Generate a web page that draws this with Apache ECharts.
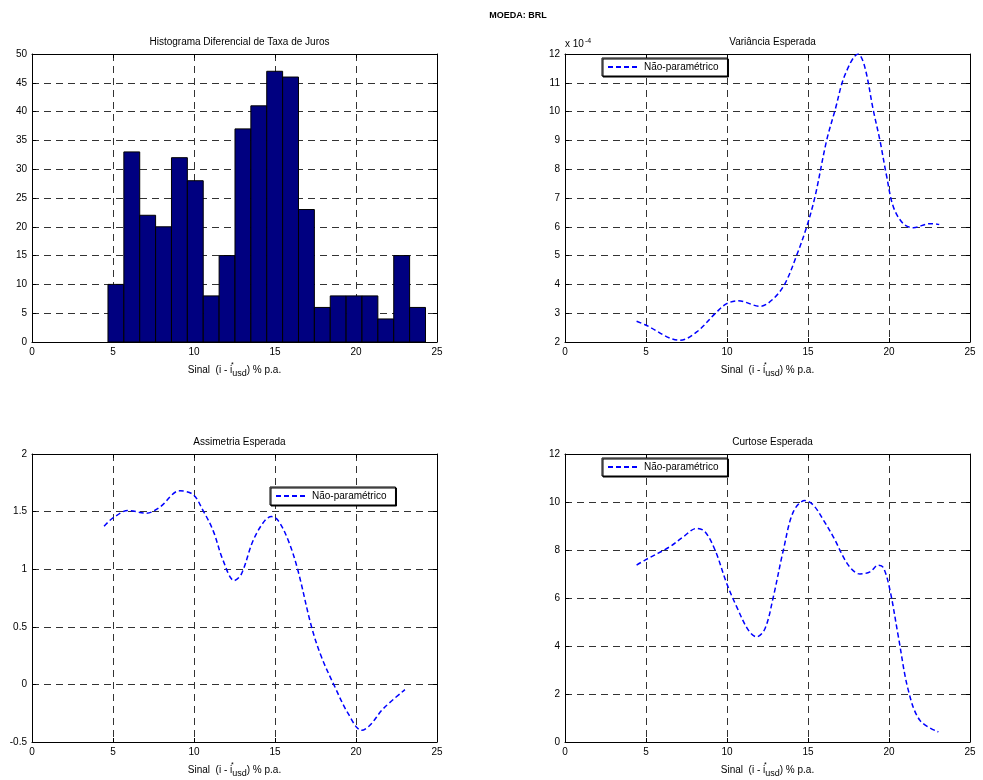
<!DOCTYPE html>
<html>
<head>
<meta charset="utf-8">
<title>MOEDA: BRL</title>
<script src="https://cdn.jsdelivr.net/npm/echarts@6/dist/echarts.min.js"></script>
<style>
  html, body { margin: 0; padding: 0; background: #fff; }
  #chart { width: 983px; height: 780px; }
</style>
</head>
<body>
<div id="chart"></div>
<script>
// histograma: centros das classes e frequencias
var binCenters = [5.18, 6.16, 7.14, 8.12, 9.10, 10.08, 11.06, 12.04, 13.02, 14.00,
                  14.98, 15.96, 16.94, 17.92, 18.90, 19.88, 20.86, 21.84, 22.82, 23.80];
var binCounts = [10, 33, 22, 20, 32, 28, 8, 15, 37, 41, 47, 46, 23, 6, 8, 8, 8, 4, 15, 6];
var binWidth = 0.98;

// variancia esperada (x 10^-4)
var varX = [4.42, 4.94, 7.1, 8.13, 9.36, 9.98, 10.7, 12.04, 12.86, 13.58, 14.3, 14.92, 15.43,
            16.15, 16.67, 17.28, 18.1, 18.5, 19.03, 19.44, 19.86, 20.27, 20.88, 21.5, 22.53, 23.1];
var varY = [2.72, 2.6, 2.06, 2.35, 3.04, 3.33, 3.43, 3.24, 3.5, 4.03, 5.01, 6.0, 7.04,
            9.0, 10.05, 11.27, 12.0, 11.56, 10.05, 9.0, 7.74, 6.69, 6.11, 5.97, 6.11, 6.08];

// assimetria esperada
var skwX = [4.45, 5.0, 5.93, 7.06, 7.88, 9.12, 9.95, 10.56, 11.18, 11.8, 12.48, 12.93, 13.65,
            14.37, 14.79, 15.2, 15.82, 16.39, 17.26, 17.87, 18.7, 19.52, 20.35, 20.86, 21.68, 23.02];
var skwY = [1.373, 1.445, 1.509, 1.486, 1.538, 1.68, 1.647, 1.509, 1.335, 1.075, 0.902, 0.96, 1.249,
            1.422, 1.457, 1.422, 1.249, 1.003, 0.497, 0.237, -0.023, -0.254, -0.399, -0.355, -0.211, -0.046];

// curtose esperada
var kurX = [4.42, 4.94, 6.48, 7.3, 8.13, 8.64, 9.26, 9.98, 10.6, 11.32, 11.83, 12.35, 12.86, 13.48,
            14.1, 14.81, 15.33, 15.95, 16.56, 17.49, 18.21, 18.83, 19.34, 19.65, 20.06, 20.58,
            21.19, 21.91, 23.05];
var kurY = [7.37, 7.58, 8.14, 8.55, 8.9, 8.76, 8.0, 6.61, 5.63, 4.66, 4.38, 4.73, 6.05, 8.0,
            9.6, 10.06, 9.87, 9.25, 8.55, 7.37, 7.0, 7.09, 7.37, 7.27, 6.33, 4.38,
            2.16, 0.9, 0.42];

var titulos = ['Histograma Diferencial de Taxa de Juros', 'Variância Esperada',
               'Assimetria Esperada', 'Curtose Esperada'];
var serieNome = 'Não-paramétrico';
var fonte = 'Arial, "Liberation Sans", Helvetica, sans-serif';

var myChart = echarts.init(document.getElementById('chart'));

// posicao dos 4 graficos (left, top)
var grids = [
  { left: 32, top: 54, width: 405, height: 288 },
  { left: 565, top: 54, width: 405, height: 288 },
  { left: 32, top: 454, width: 405, height: 288 },
  { left: 565, top: 454, width: 405, height: 288 }
];
var yCfg = [
  { min: 0, max: 50, interval: 5 },
  { min: 2, max: 12, interval: 1 },
  { min: -0.5, max: 2, interval: 0.5 },
  { min: 0, max: 12, interval: 2 }
];

function pares(xs, ys) {
  return xs.map(function (x, i) { return [x, ys[i]]; });
}

var gradeLinha = { show: true, lineStyle: { color: '#333', type: [7, 5], width: 1 } };
var eixoLinha = { show: true, onZero: false, lineStyle: { color: '#000', width: 1 } };
var tick = { show: true, inside: true, length: 4, lineStyle: { color: '#000' } };
var rotulo = { color: '#000', fontSize: 10, fontFamily: fonte, margin: 5 };

var xAxes = [], yAxes = [], titles = [];
grids.forEach(function (g, i) {
  // eixo inferior com nome
  xAxes.push({
    gridIndex: i, type: 'value', min: 0, max: 25, interval: 5,
    position: 'bottom',
    axisLine: eixoLinha, axisTick: tick, splitLine: gradeLinha,
    axisLabel: rotulo,
    name: '{n|Sinal  (i - i}{sup|*}{sub|usd}{n|) % p.a.}',
    nameLocation: 'middle', nameGap: 20,
    nameTextStyle: {
      fontFamily: fonte, color: '#000',
      rich: {
        n: { fontSize: 10, fontFamily: fonte, color: '#000', lineHeight: 16 },
        sup: { fontSize: 7, fontFamily: fonte, color: '#000', verticalAlign: 'top', width: 0 },
        sub: { fontSize: 9, fontFamily: fonte, color: '#000', verticalAlign: 'bottom', padding: [4, 0, 0, 0] }
      }
    }
  });
  // eixo superior (so ticks)
  xAxes.push({
    gridIndex: i, type: 'value', min: 0, max: 25, interval: 5, position: 'top',
    axisLine: eixoLinha, axisTick: tick, axisLabel: { show: false }, splitLine: { show: false }
  });
  var y = {
    gridIndex: i, type: 'value', min: yCfg[i].min, max: yCfg[i].max, interval: yCfg[i].interval,
    position: 'left',
    axisLine: eixoLinha, axisTick: tick, splitLine: gradeLinha,
    axisLabel: rotulo
  };
  if (i === 1) {
    y.name = '{a|x 10}{s|-4}';
    y.nameLocation = 'end';
    y.nameGap = 3;
    y.nameTextStyle = {
      align: 'left', verticalAlign: 'bottom', padding: [0, 0, 0, 0],
      rich: {
        a: { fontSize: 10, fontFamily: fonte, color: '#000' },
        s: { fontSize: 7, fontFamily: fonte, color: '#000', verticalAlign: 'top', padding: [0, 0, 6, 1] }
      }
    };
  }
  yAxes.push(y);
  yAxes.push({
    gridIndex: i, type: 'value', min: yCfg[i].min, max: yCfg[i].max, interval: yCfg[i].interval,
    position: 'right',
    axisLine: eixoLinha, axisTick: tick, axisLabel: { show: false }, splitLine: { show: false }
  });
  titles.push({
    text: titulos[i], left: g.left + g.width / 2, top: g.top - 22, textAlign: 'center',
    textStyle: { fontSize: 10, fontWeight: 'normal', fontFamily: fonte, color: '#000' }
  });
});
titles.push({
  text: 'MOEDA: BRL', left: 513, top: 6, textAlign: 'center',
  textStyle: { fontSize: 9, fontWeight: 'bold', fontFamily: fonte, color: '#000' }
});

function linha(idx, dados) {
  return {
    name: serieNome, type: 'line',
    xAxisIndex: idx * 2, yAxisIndex: idx * 2,
    data: dados, smooth: 0.35, showSymbol: false, symbol: 'none',
    lineStyle: { color: '#0000ff', width: 1.5, type: [5, 3] },
    itemStyle: { color: '#0000ff' },
    z: 5
  };
}

var legendaBase = {
  data: [serieNome], orient: 'horizontal',
  itemWidth: 31, itemHeight: 10, itemGap: 0,
  padding: [4, 9, 4, 5],
  backgroundColor: '#fff', borderColor: '#000', borderWidth: 1,
  shadowColor: '#000', shadowOffsetX: 1, shadowOffsetY: 1, shadowBlur: 0,
  itemStyle: { opacity: 0 },
  textStyle: { fontSize: 10, fontFamily: fonte, color: '#000', padding: [0, 0, 0, 0] },
  selectedMode: false
};

var option = {
  backgroundColor: '#fff',
  animation: false,
  title: titles,
  grid: grids.map(function (g) {
    return { left: g.left, top: g.top, width: g.width, height: g.height, containLabel: false };
  }),
  xAxis: xAxes,
  yAxis: yAxes,
  legend: [
    Object.assign({}, legendaBase, { left: 602, top: 58 }),
    Object.assign({}, legendaBase, { left: 270, top: 487 }),
    Object.assign({}, legendaBase, { left: 602, top: 458 })
  ],
  series: [
    {
      name: 'Histograma', type: 'custom',
      xAxisIndex: 0, yAxisIndex: 0,
      data: pares(binCenters, binCounts),
      renderItem: function (params, api) {
        var c = api.value(0);
        var h = api.value(1);
        var p0 = api.coord([c - binWidth / 2, h]);
        var p1 = api.coord([c + binWidth / 2, 0]);
        return {
          type: 'rect',
          shape: { x: p0[0], y: p0[1], width: p1[0] - p0[0], height: p1[1] - p0[1] },
          style: { fill: '#000080', stroke: '#000', lineWidth: 1 }
        };
      },
      z: 3
    },
    linha(1, pares(varX, varY)),
    linha(2, pares(skwX, skwY)),
    linha(3, pares(kurX, kurY))
  ]
};

myChart.setOption(option);
</script>
</body>
</html>
